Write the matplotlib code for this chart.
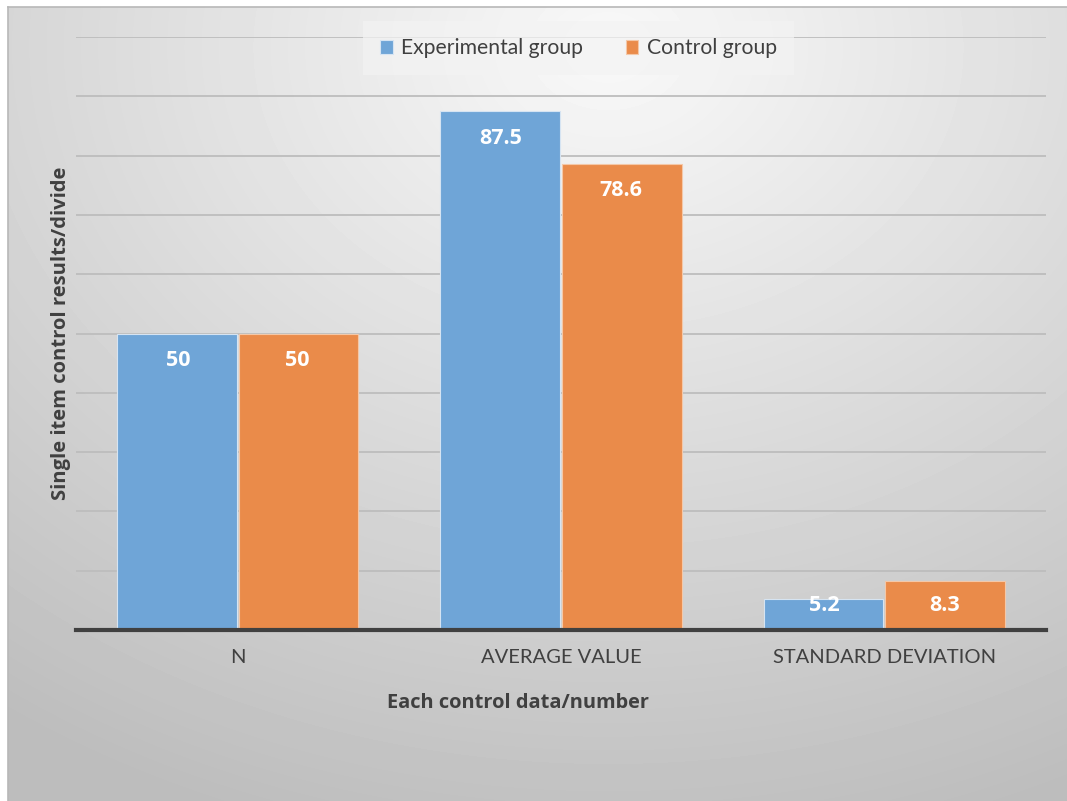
import numpy as np
import matplotlib
matplotlib.use("Agg")
from matplotlib import pyplot as plt

categories = ["N", "AVERAGE VALUE", "STANDARD DEVIATION"]
experimental = [50, 87.5, 5.2]
control = [50, 78.6, 8.3]
series_names = ["Experimental group", "Control group"]

plt.rcParams['font.family'] = ['Lato', 'DejaVu Sans']
bold_font = ['Open Sans', 'DejaVu Sans']

fig = plt.figure(figsize=(10.67, 8.01), dpi=100)

# radial grey background behind the whole chart area
bg = fig.add_axes([8 / 1067, 0, 1 - 8 / 1067, 1 - 7 / 801])
h, w = 794, 1059
yy, xx = np.mgrid[0:h, 0:w]
d = np.sqrt(((xx - 600) / w) ** 2 + ((yy - 40) / h) ** 2 * 0.9)
shade = np.clip(0.975 - 0.24 * d, 0.74, 1.0)
bg.imshow(shade, cmap='gray', vmin=0, vmax=1, aspect='auto', extent=[0, 1, 0, 1])
bg.set_xlim(0, 1)
bg.set_ylim(0, 1)
bg.set_xticks([])
bg.set_yticks([])
for side in ['right', 'bottom']:
    bg.spines[side].set_visible(False)
for side in ['left', 'top']:
    bg.spines[side].set_color('#b8b8b8')
    bg.spines[side].set_linewidth(1.2)

ax = fig.add_axes([76 / 1067, 1 - 630 / 801, 970 / 1067, 593 / 801])
ax.set_facecolor('none')

x = np.arange(len(categories))
bw = 0.37
blue = '#6fa5d7'
orange = '#ea8b4a'
ax.bar(x - bw / 2 - 0.003, experimental, bw, color=blue, edgecolor='#d6e4f2', linewidth=0.8, zorder=3)
ax.bar(x + bw / 2 + 0.003, control, bw, color=orange, edgecolor='#f4c8a8', linewidth=0.8, zorder=3)

for xs, vals in [(x - bw / 2, experimental), (x + bw / 2, control)]:
    for xi, v in zip(xs, vals):
        ax.text(xi, max(v - 4.55, 4.05), str(v), ha='center', va='center',
                color='white', fontsize=15.5, fontweight='bold', family=bold_font, zorder=4)

ax.set_xlim(-0.5, 2.5)
ax.set_ylim(0, 100)
ax.set_yticks(np.arange(10, 101, 10))
ax.yaxis.grid(True, color='#bdbdbd', linewidth=1.3, zorder=0)
ax.tick_params(axis='y', length=0, labelleft=False)
ax.set_xticks(x)
ax.set_xticklabels(categories, fontsize=14.5, color='#404040')
ax.tick_params(axis='x', length=0, pad=14)
for side in ['left', 'right', 'top']:
    ax.spines[side].set_visible(False)
ax.spines['bottom'].set_color('#404040')
ax.spines['bottom'].set_linewidth(3)
ax.spines['bottom'].set_zorder(5)

fig.text(518 / 1067, 1 - 703 / 801, "Each control data/number", fontsize=14.4,
         fontweight='bold', family=bold_font, color='#404040', ha='center', va='center')
fig.text(61 / 1067, 1 - 333 / 801, "Single item control results/divide", fontsize=14.5,
         fontweight='bold', family=bold_font, color='#404040', ha='center', va='center',
         rotation=90)

leg = ax.legend(series_names, loc='center', bbox_to_anchor=(0.518, 0.981), ncol=2,
                fontsize=15.2, frameon=True, fancybox=False, handlelength=0.6,
                handleheight=0.6, columnspacing=2.0, handletextpad=0.4,
                borderpad=0.8, borderaxespad=0)
leg.get_frame().set_facecolor('#f3f3f3')
leg.get_frame().set_edgecolor('none')
leg.get_frame().set_alpha(0.7)
for t in leg.get_texts():
    t.set_color('#404040')

fig.savefig("out.png", dpi=100)
